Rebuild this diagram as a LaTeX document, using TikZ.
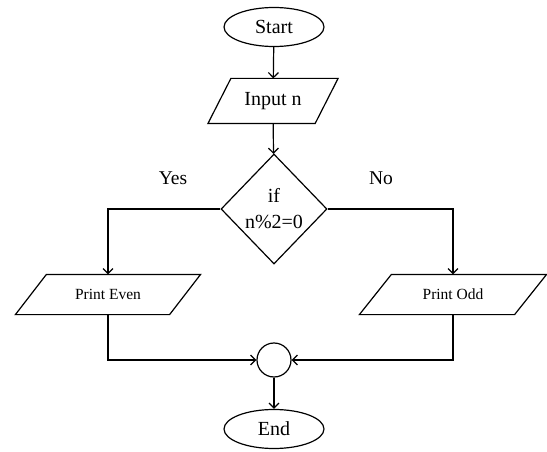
\documentclass[tikz,border=0pt]{standalone}
\usepackage{fontspec}
\setmainfont{Liberation Serif}
\usetikzlibrary{shapes.geometric,arrows.meta,calc}

\tikzset{
  base/.style={draw, line width=1.2pt, inner sep=0pt, align=center,
               font=\fontsize{20}{23}\selectfont},
  terminal/.style={base, ellipse, minimum width=100pt, minimum height=39pt},
  iobox/.style={base, draw=none, rectangle},
  iobox edge/.style={line width=1.2pt, line join=miter},
  decision/.style={base, diamond, minimum width=106pt, minimum height=110pt},
  joint/.style={base, circle, minimum size=34pt},
  flow/.style={line width=1.2pt, -{Straight Barb[length=5pt,width=10pt]}},
  lbl/.style={font=\fontsize{19.5}{22}\selectfont, inner sep=0pt},
  small/.style={font=\fontsize{15.5}{18}\selectfont},
}

% parallelogram outline round a named node: #1 node, #2 half of the slant
\newcommand{\ioframe}[2]{%
  \draw[iobox edge]
    ($(#1.south west)+(-#2,0)$) -- ($(#1.north west)+(#2,0)$) --
    ($(#1.north east)+(#2,0)$) -- ($(#1.south east)+(-#2,0)$) -- cycle;}

\begin{document}
\begin{tikzpicture}[x=1pt,y=-1pt]
  \useasboundingbox (0,0) rectangle (547,452);

  \node[terminal] (start) at (274,27) {Start};
  \node[iobox, minimum width=106pt, minimum height=44pt]
        (input) at (273,101) {Input n};
  \ioframe{input}{11.5}
  \node[decision] (cond) at (274,209) {if\\[3pt]n\%2=0};
  \node[iobox, small, minimum width=153pt, minimum height=39pt]
        (even) at (108,294.5) {Print Even};
  \ioframe{even}{15.5}
  \node[iobox, small, minimum width=154pt, minimum height=39pt]
        (odd) at (453,294.5) {Print Odd};
  \ioframe{odd}{16}
  \node[joint] (merge) at (274,360) {};
  \node[terminal] (stop) at (274,429) {End};

  \node[lbl] (yes) at (173,178) {Yes};
  \node[lbl] (no) at (381,178) {No};

  \draw[flow] (start) -- (input);
  \draw[flow] (input) -- (cond);
  \draw[flow] (cond.west) -| (even.north);
  \draw[flow] (cond.east) -| (odd.north);
  \draw[flow] (even.south) |- (merge.west);
  \draw[flow] (odd.south) |- (merge.east);
  \draw[flow] (merge) -- (stop);
\end{tikzpicture}
\end{document}
